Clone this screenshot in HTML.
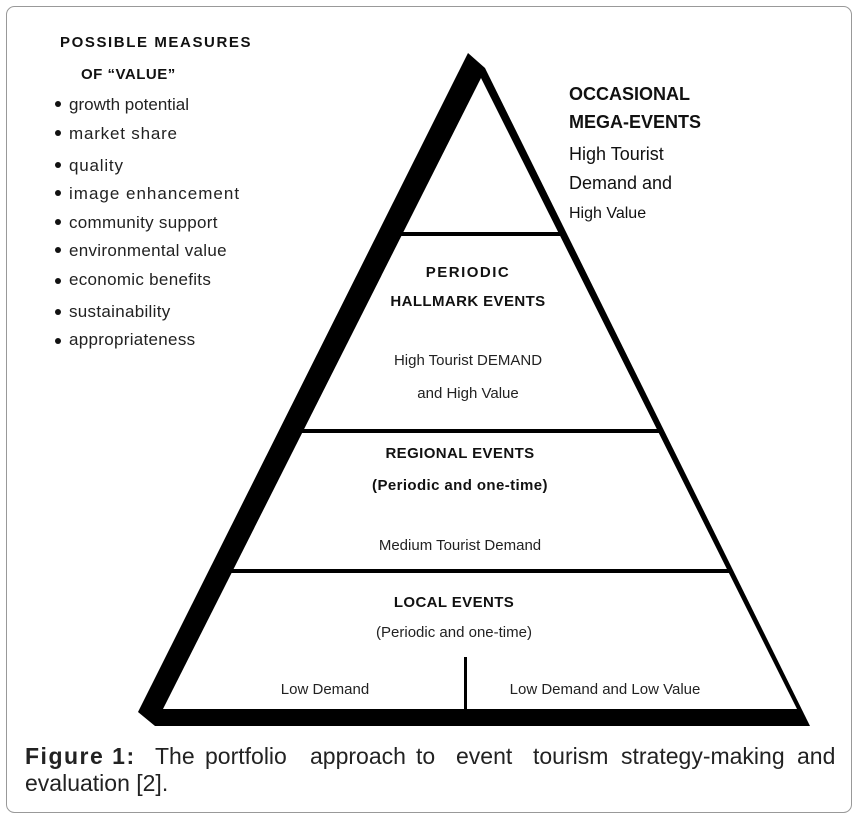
<!DOCTYPE html>
<html><head><style>html,body{margin:0;padding:0;background:#fff}svg{display:block}</style></head><body>
<svg width="858" height="820" viewBox="0 0 858 820" xmlns="http://www.w3.org/2000/svg" font-family="Liberation Sans, Arial, sans-serif">
<rect x="6.5" y="6.5" width="845" height="806" rx="8" fill="#fff" stroke="#999" stroke-width="1"/>
<polygon points="468,53 485,68 810,726 155,726 138,712" fill="#000"/>
<polygon points="481,78 797,709 163,709" fill="#fff"/>
<rect x="395" y="232" width="165" height="4" fill="#000"/>
<rect x="295" y="429" width="365" height="4" fill="#000"/>
<rect x="225" y="569" width="505" height="4" fill="#000"/>
<rect x="464" y="657" width="3" height="52" fill="#000"/>
<g fill="#111">
<g font-weight="bold" font-size="15" letter-spacing="0.5">
<text x="60" y="47" textLength="191">POSSIBLE MEASURES</text>
<text x="81" y="79">OF “VALUE”</text>
</g>
<g font-size="17" fill="#222">
<text x="69" y="110">growth potential</text>
<text x="69" y="139" letter-spacing="0.8">market share</text>
<text x="69" y="171" letter-spacing="0.8">quality</text>
<text x="69" y="199" letter-spacing="1">image enhancement</text>
<text x="69" y="228" letter-spacing="0.3">community support</text>
<text x="69" y="256" letter-spacing="0.3">environmental value</text>
<text x="69" y="285" letter-spacing="0.3">economic benefits</text>
<text x="69" y="317" letter-spacing="0.3">sustainability</text>
<text x="69" y="345" letter-spacing="0.3">appropriateness</text>
</g>
<g>
<circle cx="58" cy="104" r="3"/><circle cx="58" cy="133" r="3"/><circle cx="58" cy="165" r="3"/>
<circle cx="58" cy="193" r="3"/><circle cx="58" cy="222" r="3"/><circle cx="58" cy="250" r="3"/>
<circle cx="58" cy="281" r="3"/><circle cx="58" cy="312" r="3"/><circle cx="58" cy="341" r="3"/>
</g>
<g font-weight="bold" font-size="18">
<text x="569" y="100">OCCASIONAL</text>
<text x="569" y="128">MEGA-EVENTS</text>
</g>
<g font-size="18">
<text x="569" y="160">High Tourist</text>
<text x="569" y="189">Demand and</text>
<text x="569" y="218" font-size="16">High Value</text>
</g>
<g font-weight="bold" font-size="15" text-anchor="middle" letter-spacing="0.4">
<text x="468" y="277" letter-spacing="1.5">PERIODIC</text>
<text x="468" y="306">HALLMARK EVENTS</text>
<text x="460" y="458">REGIONAL EVENTS</text>
<text x="460" y="490">(Periodic and one-time)</text>
<text x="454" y="607">LOCAL EVENTS</text>
</g>
<g font-size="15" text-anchor="middle" fill="#222">
<text x="468" y="365">High Tourist DEMAND</text>
<text x="468" y="398">and High Value</text>
<text x="460" y="550">Medium Tourist Demand</text>
<text x="454" y="637">(Periodic and one-time)</text>
<text x="325" y="694">Low Demand</text>
<text x="605" y="694">Low Demand and Low Value</text>
</g>
<g font-size="23" fill="#222">
<text x="25" y="764" font-weight="bold" letter-spacing="1.5">Figure 1:</text>
<text x="155" y="764">The</text>
<text x="205" y="764">portfolio</text>
<text x="310" y="764">approach</text>
<text x="416" y="764">to</text>
<text x="456" y="764">event</text>
<text x="533" y="764">tourism</text>
<text x="621" y="764">strategy-making</text>
<text x="797" y="764">and</text>
<text x="25" y="791">evaluation [2].</text>
</g>
</g>
</svg>
</body></html>
